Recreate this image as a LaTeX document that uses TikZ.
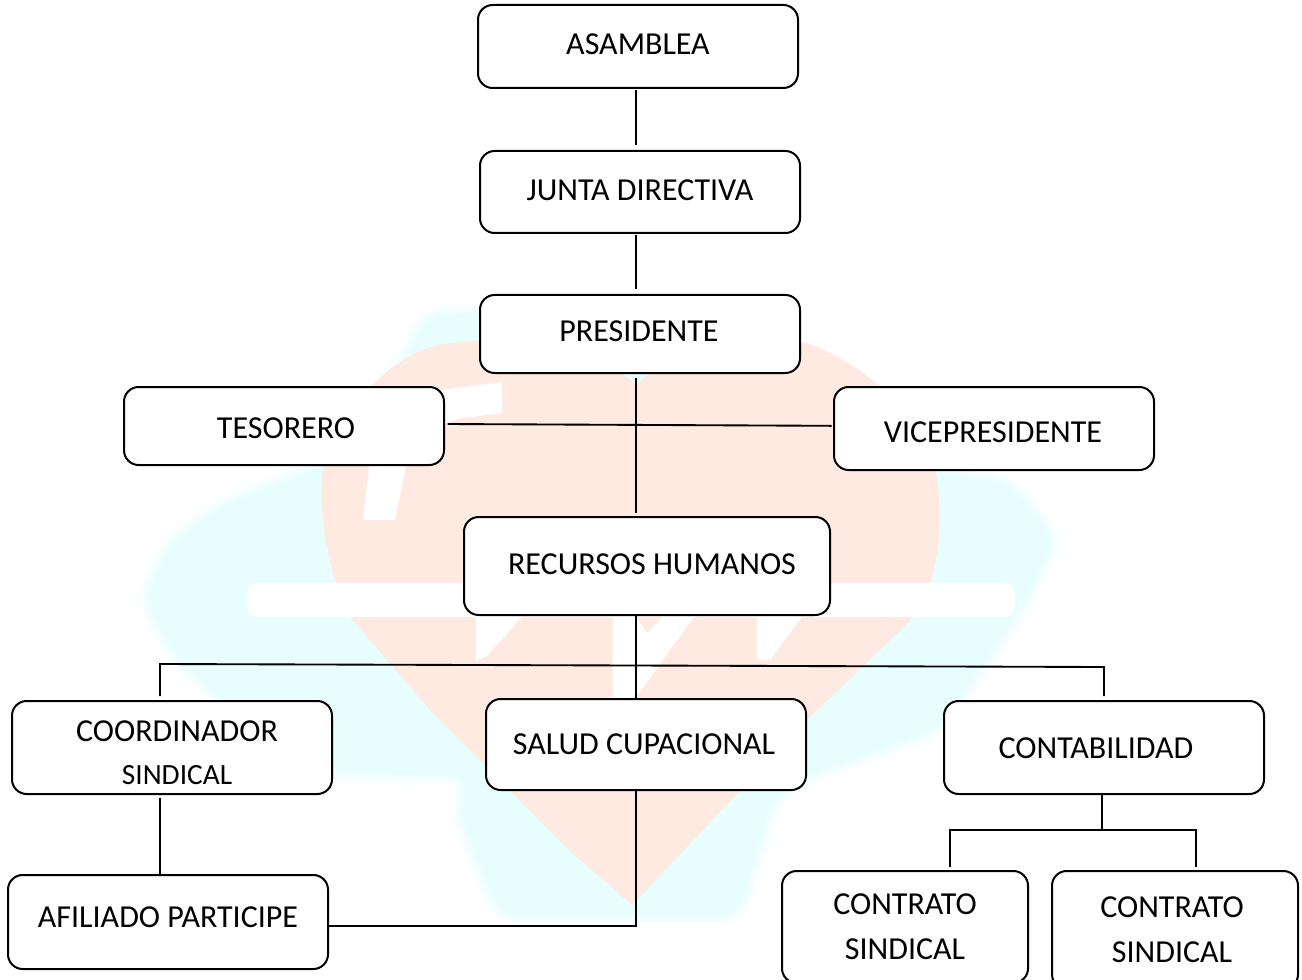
\documentclass[tikz,border=0pt]{standalone}
\usepackage{fontspec}
\setmainfont{Carlito}
\definecolor{markteal}{HTML}{E8FEFE}
\definecolor{markorange}{HTML}{FEEAE0}
\newcommand{\tealoutline}{(480,312) -- (425,316) -- (413,350) -- (320,467) -- (220,507) -- (170,545) -- (145,600) -- (175,655) -- (300,772) -- (470,776) -- (458,810) -- (500,915) -- (738,915) -- (772,800) -- (807,775) -- (940,728) -- (1015,617) -- (1055,540) -- (1008,482) -- (940,475) -- (800,400) -- cycle}
\tikzset{
  orgbox/.style={draw=black, fill=white, line width=1.5pt, rounded corners=11pt, inner sep=0pt,
    minimum width=240pt, font=\fontsize{24}{29}\selectfont},
  twolines/.style={align=center},
  up/.style={text depth=#1},
  down/.style={text height=#1},
  link/.style={draw=black, line width=1.4pt},
}
\begin{document}
\begin{tikzpicture}[x=0.75pt,y=-0.75pt]
    \clip (0,0) rectangle (1302,980);
    % watermark
    \foreach \wd/\tint in {16pt/20,10pt/45,5pt/72}
      \draw[markteal!\tint, line width=\wd, rounded corners=14pt, line join=round] \tealoutline;
    \fill[markteal, rounded corners=14pt] \tealoutline;
    \fill[markorange] (632,905) -- (569,850) -- (473,753) -- (430,710) -- (350,617) .. controls (325,570) and (318,500) .. (323,470) .. controls (335,410) and (400,345) .. (453,343) .. controls (500,335) and (600,350) .. (636,385) .. controls (670,350) and (760,335) .. (807,343) .. controls (880,370) and (930,430) .. (937,480) .. controls (945,530) and (935,590) .. (914,617) -- (807,720) -- cycle;
    \fill[white, rounded corners=8pt] (247,583) rectangle (1015,617);
    \fill[white] (440,390) -- (502,382) -- (502,413) -- (463,418) -- (440,425) -- cycle;
    \fill[white] (370,460) -- (407,460) -- (395,520) -- (363,520) -- cycle;
    \fill[white] (476,610) -- (528,610) -- (486,657) -- (476,660) -- cycle;
    \fill[white] (613,610) rectangle (636,702);
    \fill[white] (636,610) -- (699,610) -- (636,697) -- cycle;
    \fill[markorange] (636,617) -- (662,617) -- (647,633) -- cycle;
    \fill[white] (757,610) -- (807,610) -- (770,660) -- (757,660) -- cycle;

    % boxes
    \node[orgbox, minimum height=62.25pt, up=3.5pt] (asamblea) at (638,46.5) {ASAMBLEA};
    \node[orgbox, minimum height=61.5pt, up=3pt] (junta) at (640,192) {JUNTA DIRECTIVA};
    \node[orgbox, minimum height=58.5pt, up=4.5pt] (presidente) at (640,334) {PRESIDENTE\hspace*{1.5pt}};
    \node[orgbox, minimum height=58.5pt, down=19.5pt] (tesorero) at (284,426) {\hspace*{3pt}TESORERO};
    \node[orgbox, minimum height=62.25pt, down=21.5pt] (vicepresidente) at (994,428.5) {VICEPRESIDENTE\hspace*{1.5pt}};
    \node[orgbox, minimum width=274.5pt, minimum height=73.5pt, up=3pt] (recursos) at (647,566) {\hspace*{7.5pt}RECURSOS HUMANOS};
    \node[orgbox, minimum height=69.75pt, twolines] (coordinador) at (172,747.5) {\rule{0pt}{24pt}COORDINADOR\hspace*{-7.5pt}\\[3.25pt]{\fontsize{22}{26}\selectfont SINDICAL\hspace*{-7.5pt}}};
    \node[orgbox, minimum height=68.25pt] (salud) at (646,744.5) {SALUD CUPACIONAL\hspace*{3pt}};
    \node[orgbox, minimum height=69.75pt, down=17pt] (contabilidad) at (1104,747.5) {CONTABILIDAD\hspace*{12pt}};
    \node[orgbox, minimum height=70.5pt, up=7.5pt] (afiliado) at (168,922) {AFILIADO PARTICIPE};
    \node[orgbox, minimum width=184.5pt, minimum height=84pt, twolines] (contratoa) at (905,927) {CONTRATO\\[4.5pt]SINDICAL};
    \node[orgbox, minimum width=184.5pt, minimum height=88.5pt, twolines] (contratob) at (1175,930) {CONTRATO\hspace*{4.5pt}\\[4.5pt]SINDICAL\hspace*{4.5pt}};

    % connector guides
    \coordinate (trunk) at (636,0);
    \coordinate (busleft) at (160,664);
    \coordinate (busright) at (1104,667);
    \coordinate (elbow) at (636,926);
    \coordinate (subtrunk) at (1102,830);
    \coordinate (subleft) at (950,830);
    \coordinate (subright) at (1196,830);

    % connectors
    \draw[link, shorten <=1pt, shorten >=3.5pt] (asamblea.south -| trunk) -- (junta.north -| trunk);
    \draw[link, shorten <=1pt, shorten >=3.5pt] (junta.south -| trunk) -- (presidente.north -| trunk);
    \draw[link, shorten <=3pt, shorten >=2pt] (presidente.south -| trunk) -- (recursos.north -| trunk);
    \draw[link] (recursos.south -| trunk) -- (salud.north -| trunk);
    \draw[link, shorten <=2pt, shorten >=1pt] ([yshift=1.5pt]tesorero.east) -- ([yshift=2pt]vicepresidente.west);
    \draw[link] ([yshift=3pt]coordinador.north -| busleft) -- (busleft) -- (busright) -- ([yshift=3pt]contabilidad.north -| busright);
    \draw[link, shorten <=2pt] (coordinador.south -| busleft) -- (afiliado.north -| busleft);
    \draw[link] (salud.south -| trunk) -- (elbow) -- (afiliado.east |- elbow);
    \draw[link] (contabilidad.south -| subtrunk) -- (subtrunk);
    \draw[link] ([yshift=2pt]contratoa.north -| subleft) -- (subleft) -- (subright) -- ([yshift=2pt]contratob.north -| subright);
\end{tikzpicture}
\end{document}
